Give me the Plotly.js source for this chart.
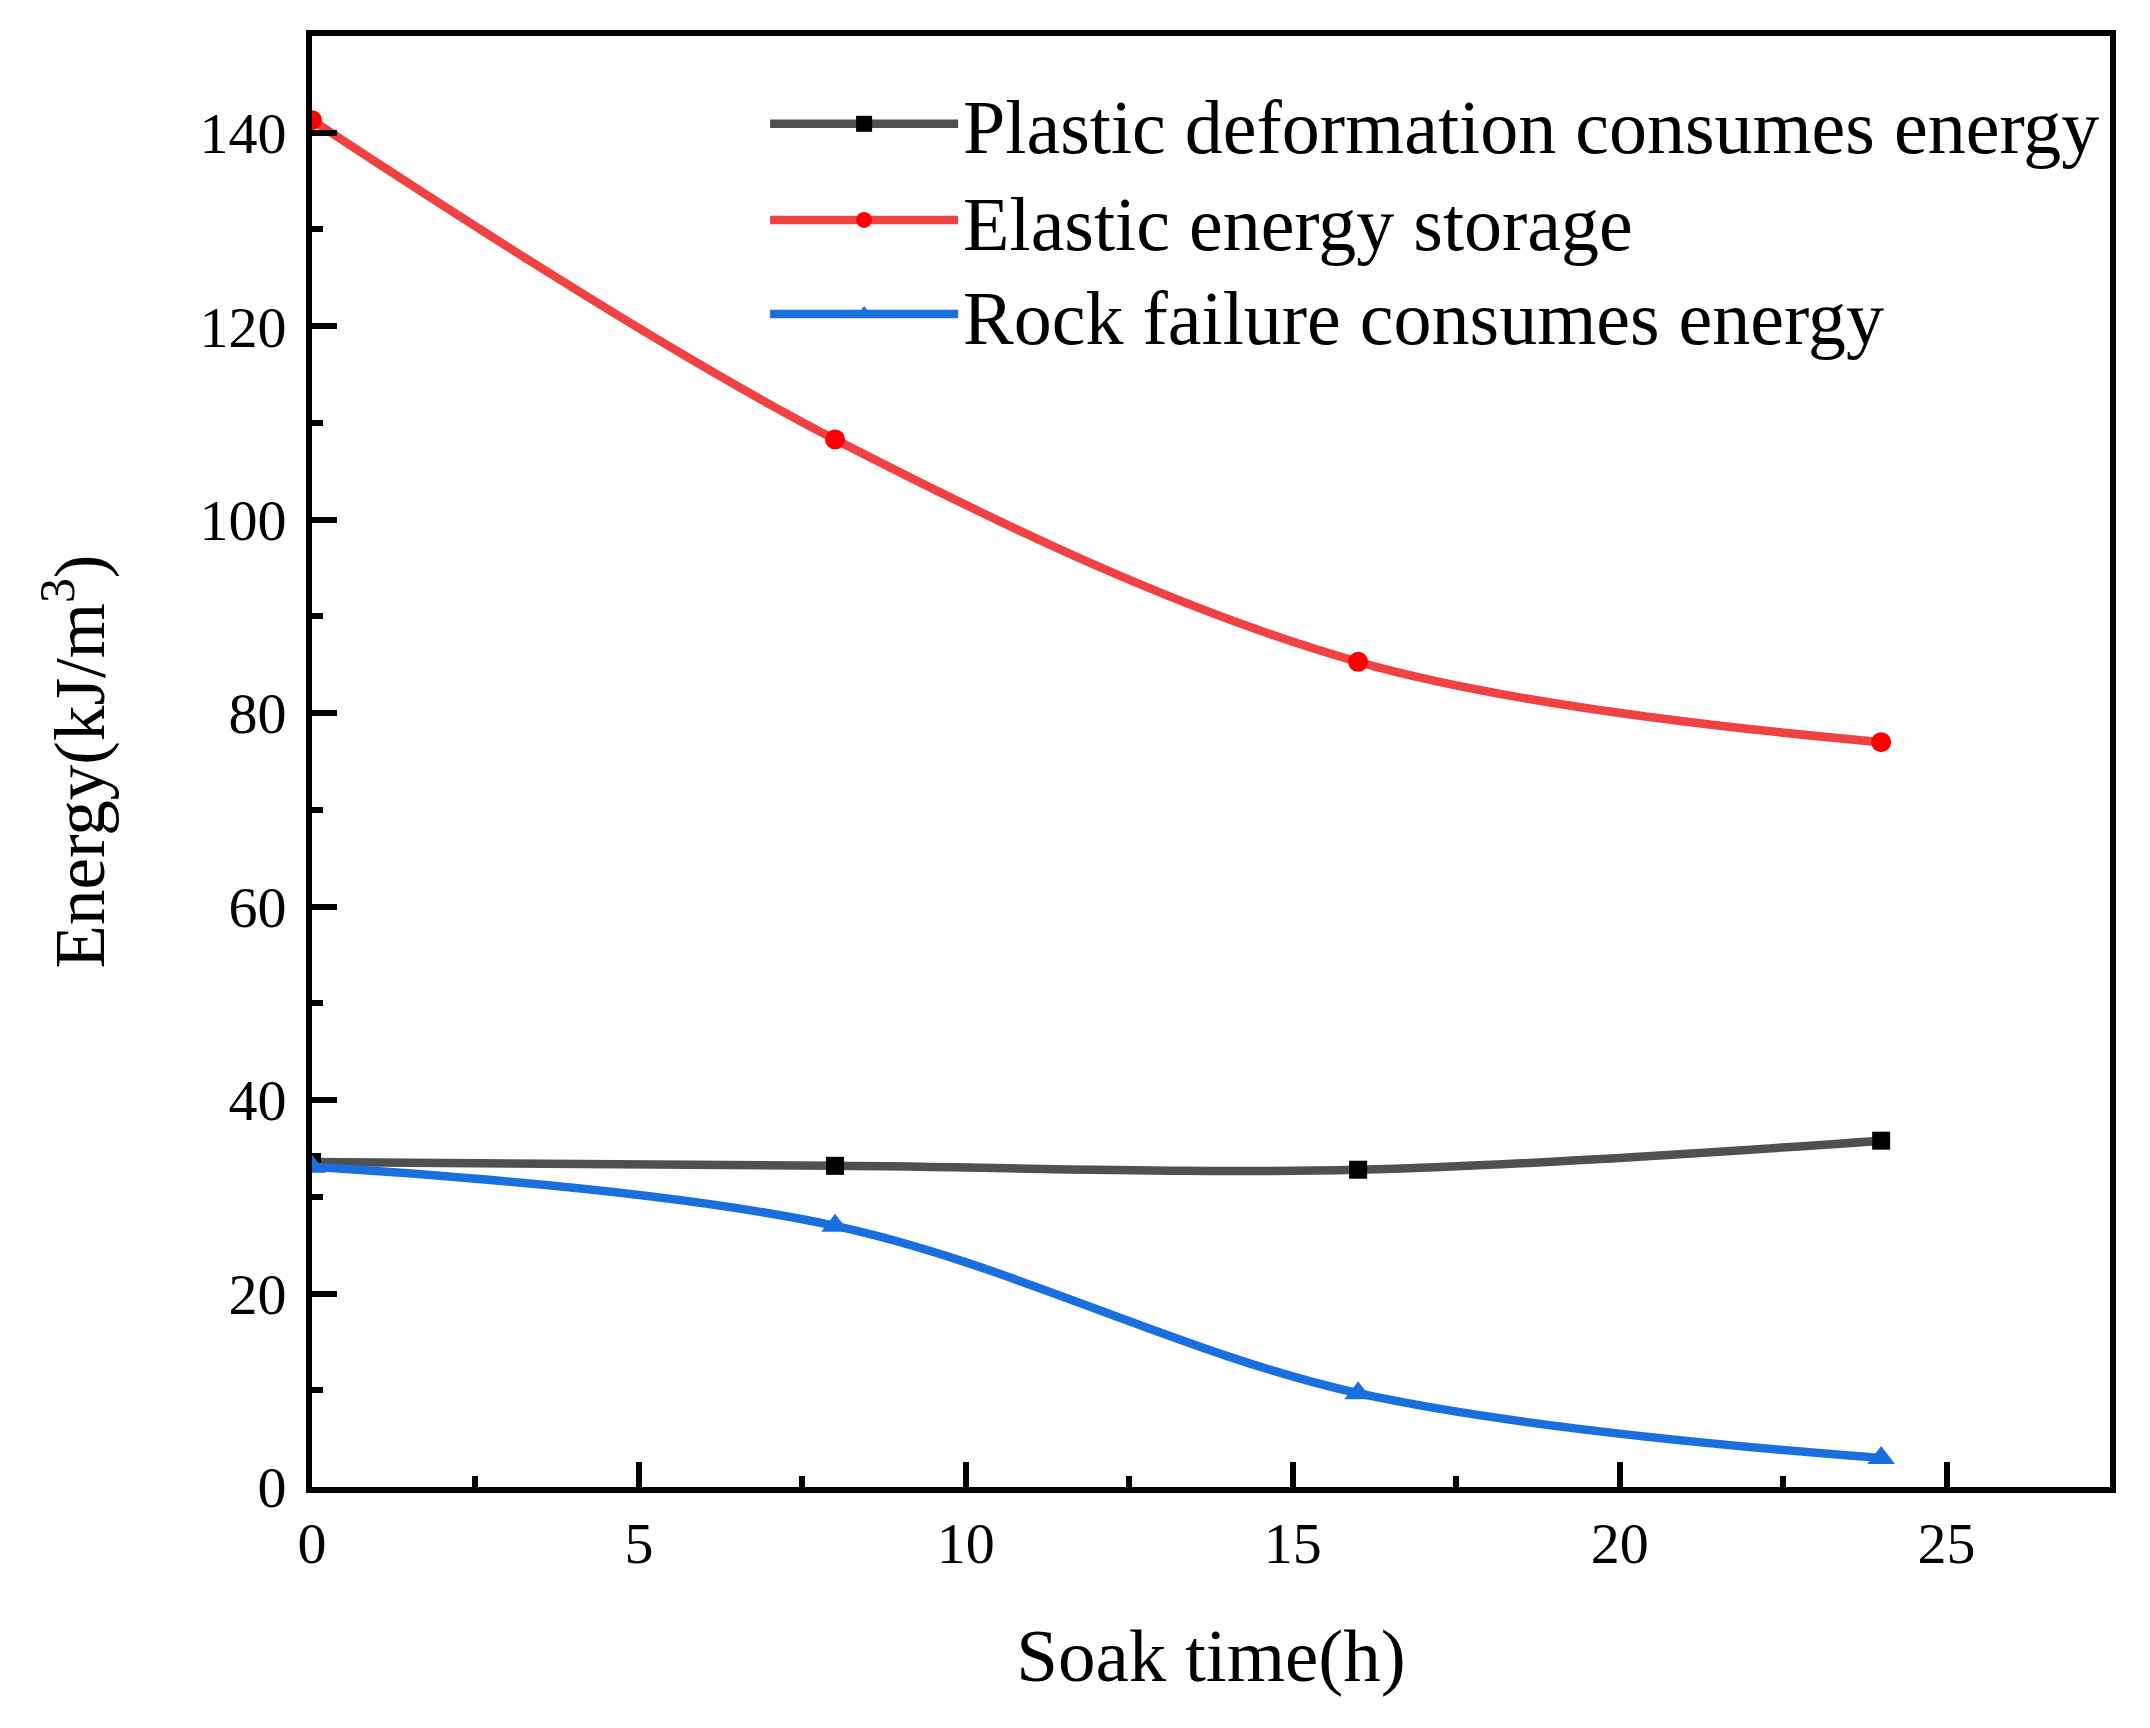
<!DOCTYPE html>
<html>
<head>
<meta charset="utf-8">
<script src="https://cdn.plot.ly/plotly-3.0.1.min.js"></script>
<style>html,body{margin:0;padding:0;background:#fff;}#chart{width:2150px;height:1728px;}</style>
</head>
<body>
<div id="chart"></div>
<script>
const soakTime = [0, 8, 16, 24];
const plasticEnergy = [33.6, 33.2, 32.8, 35.8];
const elasticEnergy = [141.3, 108.3, 85.3, 77.0];
const rockFailureEnergy = [33.1, 27.0, 9.7, 3.0];
const seriesNames = ['Plastic deformation consumes energy', 'Elastic energy storage', 'Rock failure consumes energy'];

const FONT = 'Liberation Serif, Times New Roman, serif';

const traces = [
  {x: soakTime, y: plasticEnergy, name: seriesNames[0], mode: 'lines+markers', legend: 'legend',
   line: {color: '#505050', width: 8.5, shape: 'spline'},
   marker: {symbol: 'square', size: 18, color: '#000000'}},
  {x: soakTime, y: elasticEnergy, name: seriesNames[1], mode: 'lines+markers', legend: 'legend2',
   line: {color: '#f04242', width: 8.5, shape: 'spline'},
   marker: {symbol: 'circle', size: 20, color: '#ff0000'}},
  {x: soakTime, y: rockFailureEnergy, name: seriesNames[2], mode: 'lines+markers', legend: 'legend3',
   line: {color: '#1a6fdf', width: 8.5, shape: 'spline'},
   marker: {symbol: 'triangle-up', size: 24, color: '#1a6fdf'}}
];

const axisCommon = {
  showgrid: false, zeroline: false, showline: true, linecolor: '#000', linewidth: 6,
  mirror: true, ticks: 'inside', ticklen: 25, tickwidth: 6, tickcolor: '#000',
  tickfont: {family: FONT, size: 58, color: '#000'}
};

function legendAt(y) {
  return {x: 0.252, y: y, xanchor: 'left', yanchor: 'middle', bgcolor: 'rgba(0,0,0,0)',
          font: {family: FONT, size: 76, color: '#000'}, itemwidth: 188};
}

const layout = {
  width: 2150, height: 1728,
  margin: {l: 312, r: 40, t: 36, b: 241},
  paper_bgcolor: '#fff', plot_bgcolor: '#fff',
  font: {family: FONT, color: '#000'},
  showlegend: true,
  legend: legendAt(0.9394),
  legend2: legendAt(0.8732),
  legend3: legendAt(0.8084),
  xaxis: Object.assign({}, axisCommon, {
    range: [0, 27.5], tick0: 0, dtick: 5,
    minor: {ticks: 'inside', ticklen: 11, tickwidth: 6, tickcolor: '#000', dtick: 2.5},
    title: {text: 'Soak time(h)', font: {family: FONT, size: 75, color: '#000'}, standoff: 56}
  }),
  yaxis: Object.assign({}, axisCommon, {
    range: [0, 150], tick0: 0, dtick: 20, ticklabelstandoff: 8,
    minor: {ticks: 'inside', ticklen: 11, tickwidth: 6, tickcolor: '#000', dtick: 10},
    title: {text: 'Energy(kJ/m<sup>3</sup>)', font: {family: FONT, size: 71, color: '#000'}, standoff: 74}
  })
};

Plotly.newPlot('chart', traces, layout, {displayModeBar: false, staticPlot: true});
</script>
</body>
</html>
